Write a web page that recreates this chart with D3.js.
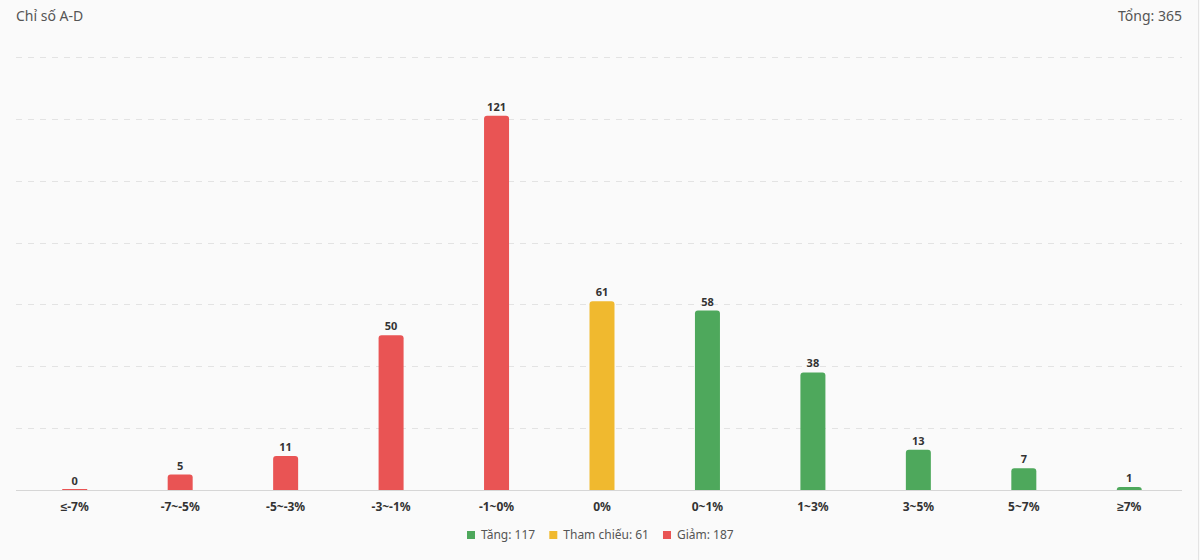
<!DOCTYPE html>
<html>
<head>
<meta charset="utf-8">
<script src="https://cdn.jsdelivr.net/npm/d3@7"></script>
<style>
  html, body { margin: 0; padding: 0; background: #fafafa; }
  svg { display: block; font-family: "Noto Sans", "Open Sans", sans-serif; }
</style>
</head>
<body>
<svg id="chart" width="1200" height="560"></svg>
<script>
var categories = ["≤-7%", "-7~-5%", "-5~-3%", "-3~-1%", "-1~0%", "0%", "0~1%", "1~3%", "3~5%", "5~7%", "≥7%"];
var counts = [0, 5, 11, 50, 121, 61, 58, 38, 13, 7, 1];
var groups = ["down", "down", "down", "down", "down", "ref", "up", "up", "up", "up", "up"];
var legendItems = [
	{ key: "up", label: "Tăng: 117" },
	{ key: "ref", label: "Tham chiếu: 61" },
	{ key: "down", label: "Giảm: 187" }
];
var yTicks = [0, 20, 40, 60, 80, 100, 120, 140];

var colors = { up: "#4ea85c", ref: "#f0b92f", down: "#e95454" };

var width = 1200, height = 560;
var gridLeft = 16, plotLeft = 22, plotRight = 1182, plotTop = 57, plotBottom = 490;

var svg = d3.select("#chart");

svg.append("rect")
	.attr("width", width).attr("height", height)
	.attr("fill", "#fafafa");
svg.append("line")
	.attr("x1", 1198.5).attr("x2", 1198.5)
	.attr("y1", 0).attr("y2", height)
	.attr("stroke", "#e4e4e4");

var x = d3.scaleBand()
	.domain(categories)
	.range([plotLeft, plotRight]);

var y = d3.scaleLinear()
	.domain([0, 140])
	.range([plotBottom, plotTop]);

// grid
svg.append("g")
	.selectAll("line")
	.data(yTicks.slice(1))
	.enter().append("line")
	.attr("x1", gridLeft).attr("x2", plotRight)
	.attr("y1", function (d) { return Math.round(y(d)) + 0.5; })
	.attr("y2", function (d) { return Math.round(y(d)) + 0.5; })
	.attr("stroke", "#e3e3e3")
	.attr("stroke-dasharray", "6,6");

// baseline
svg.append("line")
	.attr("x1", gridLeft).attr("x2", plotRight)
	.attr("y1", y(0) + 0.5).attr("y2", y(0) + 0.5)
	.attr("stroke", "#d6d6d6");

// bars
var barW = 25, r = 3;
var barPath = function (d, i) {
	var cx = x(categories[i]) + x.bandwidth() / 2;
	var x0 = cx - barW / 2, x1 = cx + barW / 2;
	var top = y(d), bot = y(0);
	var h = bot - top;
	if (h < 1) {
		return "M" + x0 + "," + (bot - 1) + "H" + x1 + "V" + bot + "H" + x0 + "Z";
	}
	var rr = Math.min(r, h);
	return "M" + x0 + "," + bot +
		"V" + (top + rr) +
		"Q" + x0 + "," + top + " " + (x0 + rr) + "," + top +
		"H" + (x1 - rr) +
		"Q" + x1 + "," + top + " " + x1 + "," + (top + rr) +
		"V" + bot + "Z";
};

svg.append("g")
	.selectAll("path")
	.data(counts)
	.enter().append("path")
	.attr("d", barPath)
	.attr("fill", function (d, i) { return colors[groups[i]]; });

// value labels
svg.append("g")
	.selectAll("text")
	.data(counts)
	.enter().append("text")
	.attr("x", function (d, i) { return x(categories[i]) + x.bandwidth() / 2; })
	.attr("y", function (d) { return y(d) - 5; })
	.attr("text-anchor", "middle")
	.attr("font-size", 11)
	.attr("font-weight", "bold")
	.attr("fill", "#333")
	.text(function (d) { return d; });

// x axis
var xAxis = svg.append("g")
	.attr("transform", "translate(0," + plotBottom + ")")
	.call(d3.axisBottom(x).tickSize(0).tickPadding(12));
xAxis.select(".domain").remove();
xAxis.selectAll("text")
	.attr("font-size", 12)
	.attr("font-weight", "bold")
	.attr("fill", "#333")
	.attr("font-family", "\"Noto Sans\", sans-serif");

// title
svg.append("text")
	.attr("x", 16).attr("y", 21)
	.attr("font-size", 14)
	.attr("fill", "#555")
	.text("Chỉ số A-D");
svg.append("text")
	.attr("x", 1182).attr("y", 21)
	.attr("text-anchor", "end")
	.attr("font-size", 14)
	.attr("fill", "#555")
	.text("Tổng: " + d3.sum(counts));

// legend
var legend = svg.append("g");
var item = legend.selectAll("g")
	.data(legendItems)
	.enter().append("g");
item.append("rect")
	.attr("width", 8).attr("height", 8)
	.attr("y", -8)
	.attr("fill", function (d) { return colors[d.key]; });
item.append("text")
	.attr("x", 14).attr("y", 0)
	.attr("font-size", 12)
	.attr("fill", "#555")
	.text(function (d) { return d.label; });

var offset = 0;
item.each(function () {
	var g = d3.select(this);
	g.attr("transform", "translate(" + offset + ",0)");
	offset += this.getBBox().width + 14;
});
var total = offset - 14;
legend.attr("transform", "translate(" + Math.round(600 - total / 2) + ",539)");
</script>
</body>
</html>
